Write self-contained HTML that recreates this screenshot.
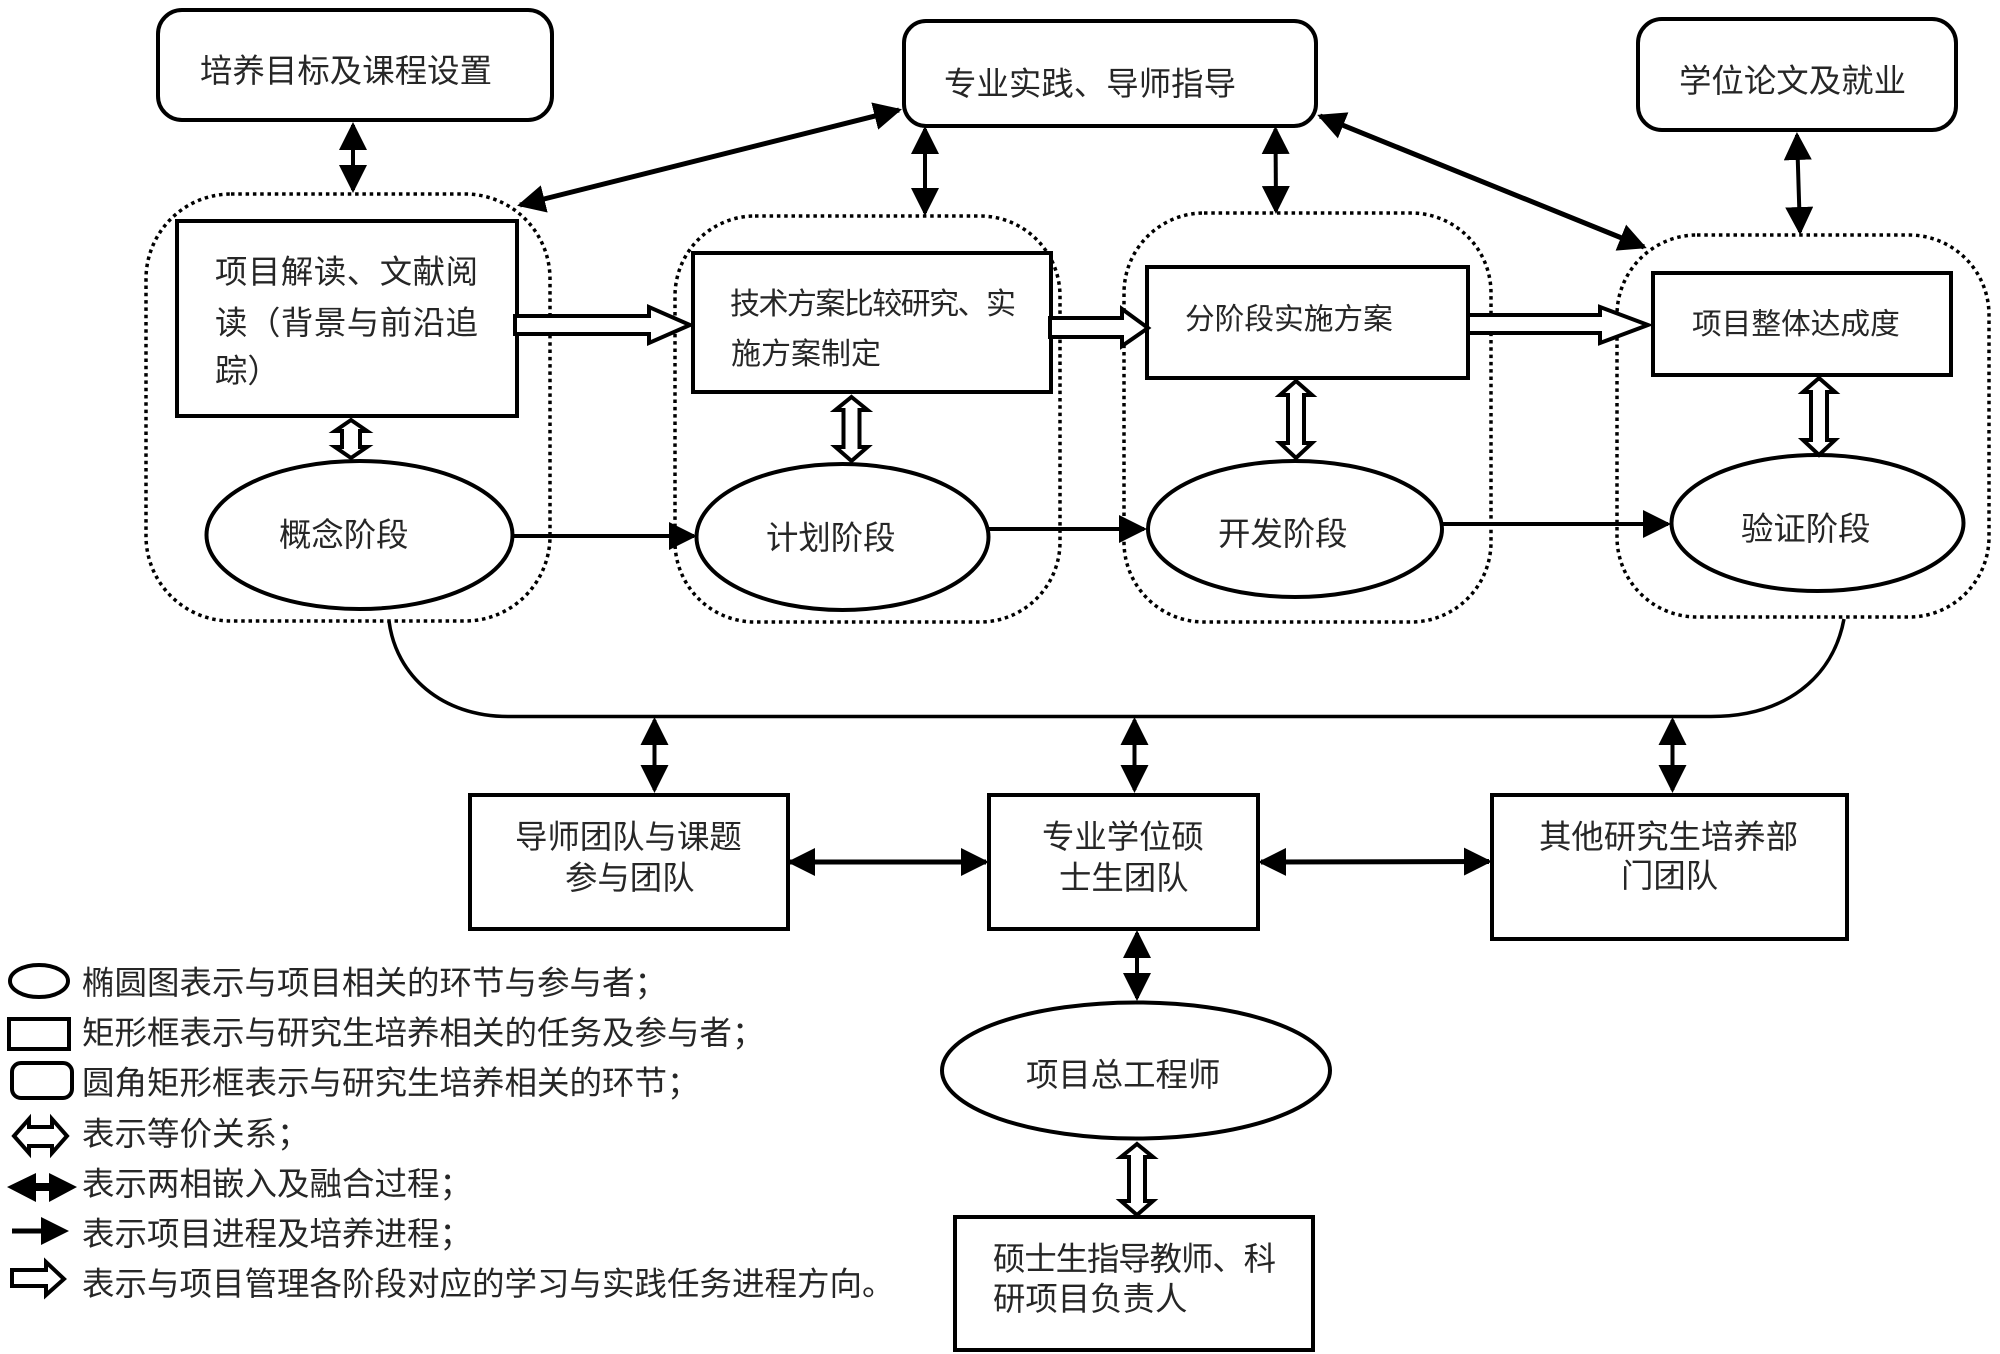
<!DOCTYPE html>
<html lang="zh-CN">
<head>
<meta charset="utf-8">
<title>diagram</title>
<style>
html,body{margin:0;padding:0;background:#fff;width:2000px;height:1354px;overflow:hidden}
svg{display:block}
text{font-family:"Liberation Sans","Noto Sans CJK SC",sans-serif;font-size:32.4px;fill:#262626}
.b{fill:#fff;stroke:#000;stroke-width:4}
.d{fill:none;stroke:#000;stroke-width:3.5;stroke-dasharray:3.5 3.8}
.h{fill:#fff;stroke:#000;stroke-width:4;stroke-linejoin:miter}
.a{stroke:#000;fill:none;marker-end:url(#m)}
.aa{stroke:#000;fill:none;marker-end:url(#m);marker-start:url(#m)}
</style>
</head>
<body>
<svg width="2000" height="1354" viewBox="0 0 2000 1354" xmlns="http://www.w3.org/2000/svg">
<defs>
<marker id="m" markerUnits="userSpaceOnUse" viewBox="0 0 28 28" markerWidth="28" markerHeight="28" refX="25" refY="14" orient="auto-start-reverse"><path d="M0,0L28,14L0,28z" fill="#000"/></marker>
</defs>

<!-- dotted groups -->
<rect class="d" x="146" y="194" width="404" height="427" rx="85" ry="85"/>
<rect class="d" x="675" y="216" width="385" height="406" rx="80" ry="80"/>
<rect class="d" x="1124" y="213" width="367" height="409" rx="80" ry="80"/>
<rect class="d" x="1617" y="235" width="372" height="382" rx="80" ry="80"/>

<!-- top rounded boxes -->
<rect class="b" x="158" y="10" width="394" height="110" rx="24"/>
<rect class="b" x="904" y="21" width="412" height="105" rx="22"/>
<rect class="b" x="1638" y="19" width="318" height="111" rx="24"/>

<!-- rectangles -->
<rect class="b" x="177" y="221" width="340" height="195"/>
<rect class="b" x="693" y="253" width="358" height="139"/>
<rect class="b" x="1147" y="267" width="321" height="111"/>
<rect class="b" x="1653" y="273" width="298" height="102"/>

<!-- ellipses -->
<ellipse class="b" cx="359.500" cy="535" rx="153" ry="74"/>
<ellipse class="b" cx="842.5" cy="537" rx="146" ry="73"/>
<ellipse class="b" cx="1295" cy="529" rx="147" ry="68"/>
<ellipse class="b" cx="1817.5" cy="523" rx="146" ry="68"/>

<!-- progress arrows -->
<line class="a" x1="512" y1="536" x2="694" y2="536" stroke-width="4"/>
<line class="a" x1="989" y1="529" x2="1144" y2="529" stroke-width="4"/>
<line class="a" x1="1442" y1="524" x2="1668" y2="524" stroke-width="4"/>

<!-- hollow horizontal arrows -->
<polygon class="h" points="515,316 649,316 649,307 690,325 649,343 649,334 515,334"/>
<polygon class="h" points="1050,318 1122,318 1122,309 1148,328 1122,346 1122,337 1050,337"/>
<polygon class="h" points="1468,315 1600,315 1600,307 1648,325 1600,343 1600,333 1468,333"/>

<!-- hollow vertical arrows -->
<polygon class="h" points="351,420 367,431 360,431 360,447 367,447 351,458 335,447 342,447 342,431 335,431"/>
<polygon class="h" points="851.5,397 867.5,410 859.5,410 859.5,447 867.5,447 851.5,461 835.5,447 843.5,447 843.5,410 835.5,410"/>
<polygon class="h" points="1296,381 1312,395 1304,395 1304,443 1312,443 1296,458 1280,443 1288,443 1288,395 1280,395"/>
<polygon class="h" points="1819,378 1835,392 1827,392 1827,440 1835,440 1819,455 1803,440 1811,440 1811,392 1803,392"/>

<!-- black double arrows top -->
<line class="aa" x1="353" y1="125" x2="353" y2="190" stroke-width="4"/>
<line class="aa" x1="925" y1="129" x2="925" y2="213" stroke-width="4"/>
<line class="aa" x1="1275.5" y1="129" x2="1276" y2="211" stroke-width="4"/>
<line class="aa" x1="1797" y1="135" x2="1800" y2="232" stroke-width="4"/>
<line class="aa" x1="899" y1="110" x2="520" y2="205" stroke-width="5"/>
<line class="aa" x1="1320" y1="116" x2="1644" y2="247" stroke-width="5"/>

<!-- bottom curve -->
<path d="M389,621 C396,676 442,716.500 508,716.500 L1711,716.500 C1785,716.500 1833,678 1844,619" fill="none" stroke="#000" stroke-width="3.5"/>

<!-- bottom boxes -->
<rect class="b" x="470" y="795" width="318" height="134"/>
<rect class="b" x="989" y="795" width="269" height="134"/>
<rect class="b" x="1492" y="795" width="355" height="144"/>
<ellipse class="b" cx="1136" cy="1070.500" rx="194" ry="68"/>
<rect class="b" x="955" y="1217" width="358" height="133"/>

<!-- bottom arrows -->
<line class="aa" x1="654.500" y1="720" x2="654.500" y2="790" stroke-width="4"/>
<line class="aa" x1="1134.500" y1="720" x2="1134.500" y2="790" stroke-width="4"/>
<line class="aa" x1="1672.500" y1="720" x2="1672.500" y2="790" stroke-width="4"/>
<line class="aa" x1="790" y1="862" x2="986" y2="862" stroke-width="5"/>
<line class="aa" x1="1261" y1="862" x2="1489" y2="861.500" stroke-width="5"/>
<line class="aa" x1="1137" y1="933" x2="1137" y2="998" stroke-width="4"/>
<polygon class="h" points="1137,1144 1153,1157 1145,1157 1145,1201 1153,1201 1137,1215 1121,1201 1129,1201 1129,1157 1121,1157"/>

<!-- legend shapes -->
<ellipse class="b" cx="39" cy="981" rx="29" ry="16"/>
<rect class="b" x="9" y="1019" width="60" height="30"/>
<rect class="b" x="12" y="1063" width="60" height="35" rx="9"/>
<polygon class="h" points="14,1136 29,1119 29,1127 52,1127 52,1119 67,1136 52,1153 52,1146 29,1146 29,1153"/>
<polygon points="7,1187 36,1173 36,1183 49,1183 49,1173 77,1187 49,1202 49,1191 36,1191 36,1202" fill="#000"/>
<line x1="12" y1="1231" x2="42" y2="1231" stroke="#000" stroke-width="5"/>
<polygon points="41,1217 69,1231 41,1245" fill="#000"/>
<polygon class="h" points="12,1270 46,1270 46,1262 64,1279 46,1295 46,1286 12,1286"/>

<!-- box text -->
<text x="200" y="82" textLength="292">培养目标及课程设置</text>
<text x="944" y="95" textLength="292">专业实践、导师指导</text>
<text x="1679" y="92" textLength="227">学位论文及就业</text>
<text x="215" y="283" textLength="263">项目解读、文献阅</text>
<text x="215" y="334" textLength="263">读（背景与前沿追</text>
<text x="215" y="382">踪）</text>
<text x="730" y="314" textLength="286" style="font-size:30px">技术方案比较研究、实</text>
<text x="731" y="364" style="font-size:30px">施方案制定</text>
<text x="1185" y="329" style="font-size:29.7px">分阶段实施方案</text>
<text x="1692" y="334" style="font-size:29.7px">项目整体达成度</text>
<text x="279" y="546">概念阶段</text>
<text x="766" y="549">计划阶段</text>
<text x="1218" y="545">开发阶段</text>
<text x="1741" y="540">验证阶段</text>
<text x="515" y="848">导师团队与课题</text>
<text x="565" y="889">参与团队</text>
<text x="1042" y="848">专业学位硕</text>
<text x="1059" y="889">士生团队</text>
<text x="1539" y="848">其他研究生培养部</text>
<text x="1621" y="887">门团队</text>
<text x="1026" y="1086">项目总工程师</text>
<text x="993" y="1270" textLength="283">硕士生指导教师、科</text>
<text x="993" y="1310">研项目负责人</text>

<!-- legend text -->
<g>
<text x="82" y="994" style="font-size:32.5px">椭圆图表示与项目相关的环节与参与者；</text>
<text x="82" y="1044" style="font-size:32.5px">矩形框表示与研究生培养相关的任务及参与者；</text>
<text x="82" y="1094" style="font-size:32.5px">圆角矩形框表示与研究生培养相关的环节；</text>
<text x="82" y="1145" style="font-size:32.5px">表示等价关系；</text>
<text x="82" y="1195" style="font-size:32.5px">表示两相嵌入及融合过程；</text>
<text x="82" y="1245" style="font-size:32.5px">表示项目进程及培养进程；</text>
<text x="82" y="1295" style="font-size:32.5px">表示与项目管理各阶段对应的学习与实践任务进程方向。</text>
</g>
</svg>
</body>
</html>
